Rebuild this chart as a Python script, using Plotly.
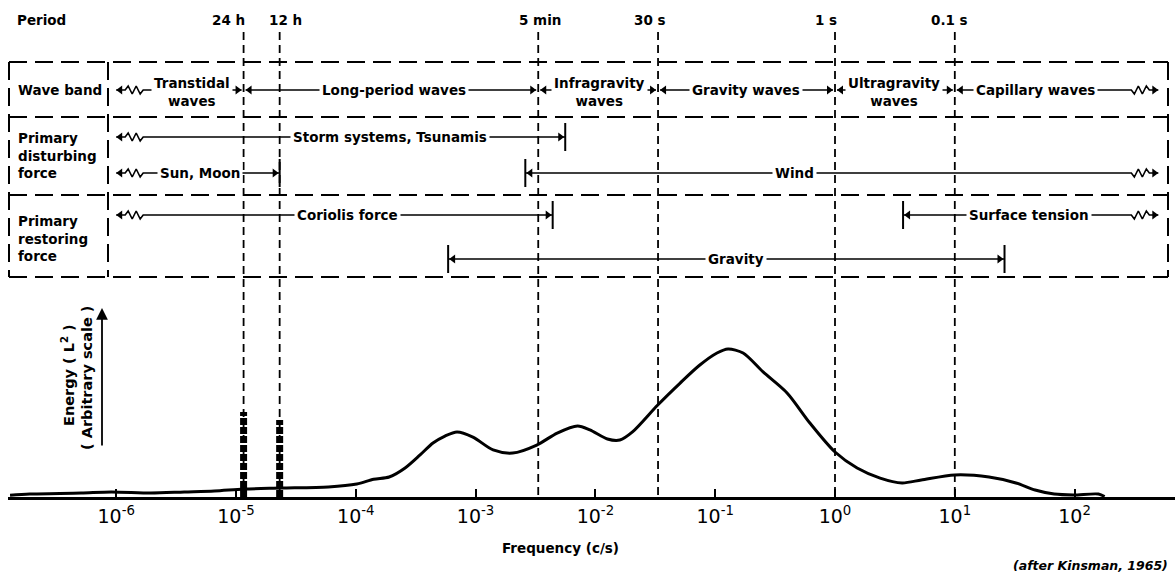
import numpy as np
import plotly.graph_objects as go

# ---------------- data ----------------
freq = [1.3e-7, 1.9e-7, 5.1e-7, 9.1e-7, 1.95e-6, 3.7e-6, 6.6e-6, 1.17e-5, 2.4e-5, 5.9e-5,
        1.02e-4, 1.41e-4, 1.9e-4, 2.58e-4, 3.44e-4, 4.41e-4, 5.55e-4, 7.0e-4, 9.5e-4, 1.4e-3,
        2.04e-3, 3.24e-3, 4.8e-3, 7.1e-3, 9.0e-3, 1.26e-2, 1.6e-2, 2.04e-2, 3.3e-2, 5.1e-2,
        7.4e-2, 0.1035, 0.128, 0.171, 0.251, 0.398, 0.617, 1.0, 1.53, 2.38,
        3.63, 5.25, 10, 19.3, 32.4, 46.8, 67.6, 97.7, 158, 178]
energy = [0.012, 0.02, 0.027, 0.034, 0.027, 0.034, 0.04, 0.054, 0.06, 0.068,
          0.088, 0.12, 0.135, 0.196, 0.284, 0.365, 0.412, 0.44, 0.405, 0.318,
          0.297, 0.351, 0.432, 0.48, 0.453, 0.392, 0.385, 0.44, 0.62, 0.77,
          0.89, 0.973, 1.0, 0.973, 0.845, 0.703, 0.5, 0.304, 0.196, 0.128,
          0.095, 0.115, 0.149, 0.135, 0.095, 0.047, 0.02, 0.014, 0.02, 0.003]

tide_freq = [1 / 86400, 1 / 43200]
tide_energy = [0.574, 0.52]

period_labels = ["24 h", "12 h", "5 min", "30 s", "1 s", "0.1 s"]
period_freq = [1 / 86400, 1 / 43200, 1 / 300, 1 / 30, 1.0, 10.0]
period_label_shift = [-15, 6, 2, -8, -9, -5]

tick_vals = [1e-6, 1e-5, 1e-4, 1e-3, 1e-2, 1e-1, 1, 10, 100]
tick_text = ["10<sup>-6</sup>", "10<sup>-5</sup>", "10<sup>-4</sup>", "10<sup>-3</sup>",
             "10<sup>-2</sup>", "10<sup>-1</sup>", "10<sup>0</sup>", "10<sup>1</sup>",
             "10<sup>2</sup>"]

OPEN_LOW = 1e-6
OPEN_HIGH = 5e2

band_labels = ["Transtidal<br>waves", "Long-period waves", "Infragravity<br>waves",
               "Gravity waves", "Ultragravity<br>waves", "Capillary waves"]
band_lo = [OPEN_LOW, 1 / 86400, 1 / 300, 1 / 30, 1.0, 10.0]
band_hi = [1 / 86400, 1 / 300, 1 / 30, 1.0, 10.0, OPEN_HIGH]
band_label_freq = [4.3e-6, 2.1e-4, 1.09e-2, 0.18, 3.1, 47.6]
band_lo_end = ["wavy", "arrow", "arrow", "arrow", "arrow", "arrow"]
band_hi_end = ["arrow", "arrow", "arrow", "arrow", "arrow", "wavy"]

force_labels = ["Storm systems, Tsunamis", "Sun, Moon", "Wind",
                "Coriolis force", "Gravity", "Surface tension"]
force_lo = [OPEN_LOW, OPEN_LOW, 2.6e-3, OPEN_LOW, 5.9e-4, 3.7]
force_hi = [5.6e-3, 1 / 43200, OPEN_HIGH, 4.4e-3, 26, OPEN_HIGH]
force_label_freq = [1.93e-4, 5.0e-6, 0.46, 8.5e-5, 0.149, 41.6]
force_lo_end = ["wavy", "wavy", "bar", "wavy", "bar", "bar"]
force_hi_end = ["bar", "bar", "wavy", "bar", "bar", "wavy"]
force_row = ["dist1", "dist2", "dist2", "rest1", "rest2", "rest1"]

# ---------------- layout constants ----------------
W, H = 1175, 573
ML, MB = 8, 76
PLOT_W = W - ML
PLOT_H = H - MB
X_RANGE = [-6.903, 2.838]
DEC_PER_PX = (X_RANGE[1] - X_RANGE[0]) / PLOT_W
ROW_Y = {"band": 90, "dist1": 137, "dist2": 173, "rest1": 215, "rest2": 259}
FONT = "DejaVu Sans"
TXT = dict(family=FONT, size=13.5, color="black", weight="bold")

ZZ_OFF = [0, 9, 12, 16, 20, 24, 27]
ZZ_DY = [0, 0, -4, 4, -4, 4, 0]


def px(v):
    return (v - ML) / PLOT_W


fig = go.Figure()

# energy spectrum
fig.add_trace(go.Scatter(x=freq, y=energy, mode="lines",
                         line=dict(color="black", width=3, shape="spline", smoothing=0.8),
                         hoverinfo="skip"))
# tidal spikes
for f, e in zip(tide_freq, tide_energy):
    fig.add_trace(go.Scatter(x=[f, f], y=[0, e], mode="lines",
                             line=dict(color="black", width=7, dash="7px,2px"),
                             hoverinfo="skip"))

# period dashed lines
for f in period_freq:
    fig.add_trace(go.Scatter(x=[f, f], y=[32, PLOT_H], yaxis="y2", mode="lines",
                             line=dict(color="black", width=1.8, dash="8px,5px"),
                             hoverinfo="skip"))

# table arrows
line_x, line_y = [], []
tl_x, tl_y, tr_x, tr_y, bar_x, bar_y = [], [], [], [], [], []
annotations = []


def add_item(lo, hi, y, lo_end, hi_end, label, label_f):
    d = DEC_PER_PX
    a, b = np.log10(lo), np.log10(hi)
    pts = []
    tip_off = {"arrow": 2, "wavy": 0, "bar": 1}
    if lo_end == "wavy":
        pts += [(a + o * d, y + dy) for o, dy in zip(ZZ_OFF, ZZ_DY)]
    else:
        pts.append((a + (2 if lo_end == "arrow" else 0) * d, y))
    if hi_end == "wavy":
        pts += [(b - o * d, y + dy) for o, dy in zip(ZZ_OFF, ZZ_DY)][::-1]
    else:
        pts.append((b - (2 if hi_end == "arrow" else 0) * d, y))
    for lx, ly in pts:
        line_x.append(10 ** lx)
        line_y.append(ly)
    line_x.append(None)
    line_y.append(None)
    tl_x.append(10 ** (a + (tip_off[lo_end] + 4) * d)); tl_y.append(y)
    tr_x.append(10 ** (b - (tip_off[hi_end] + 4) * d)); tr_y.append(y)
    if lo_end == "bar":
        bar_x.append(lo); bar_y.append(y)
    if hi_end == "bar":
        bar_x.append(hi); bar_y.append(y)
    annotations.append(dict(x=np.log10(label_f), y=y + (1.5 if "<br>" in label else 0),
                            xref="x", yref="y2", text=label, showarrow=False,
                            xanchor="center", yanchor="middle",
                            font=TXT, bgcolor="white", borderpad=2))


for i in range(len(band_labels)):
    add_item(band_lo[i], band_hi[i], ROW_Y["band"], band_lo_end[i], band_hi_end[i],
             band_labels[i], band_label_freq[i])
for i in range(len(force_labels)):
    add_item(force_lo[i], force_hi[i], ROW_Y[force_row[i]], force_lo_end[i], force_hi_end[i],
             force_labels[i], force_label_freq[i])

fig.add_trace(go.Scatter(x=line_x, y=line_y, yaxis="y2", mode="lines",
                         line=dict(color="black", width=1.6), hoverinfo="skip"))
fig.add_trace(go.Scatter(x=tl_x, y=tl_y, yaxis="y2", mode="markers",
                         marker=dict(symbol="triangle-left", size=8, color="black"),
                         hoverinfo="skip"))
fig.add_trace(go.Scatter(x=tr_x, y=tr_y, yaxis="y2", mode="markers",
                         marker=dict(symbol="triangle-right", size=8, color="black"),
                         hoverinfo="skip"))
fig.add_trace(go.Scatter(x=bar_x, y=bar_y, yaxis="y2", mode="markers",
                         marker=dict(symbol="line-ns", size=20,
                                     line=dict(width=2, color="black")),
                         hoverinfo="skip"))

# table border (dashed)
shapes = []
dash_tbl = "18px,8px"
for yy in [62, 117, 195, 277]:
    shapes.append(dict(type="line", xref="paper", yref="y2", x0=px(9), x1=px(1168),
                       y0=yy, y1=yy, line=dict(color="black", width=2, dash=dash_tbl)))
for xx in [9, 108, 1168]:
    shapes.append(dict(type="line", xref="paper", yref="y2", x0=px(xx), x1=px(xx),
                       y0=62, y1=277, line=dict(color="black", width=2, dash=dash_tbl)))

# period labels
annotations.append(dict(x=px(15), y=20, xref="paper", yref="y2", text="Period",
                        xanchor="left", yanchor="middle", showarrow=False, font=TXT))
for lab, f, sh in zip(period_labels, period_freq, period_label_shift):
    annotations.append(dict(x=np.log10(f), y=20, xref="x", yref="y2", text=lab,
                            xshift=sh, xanchor="center", yanchor="middle",
                            showarrow=False, font=TXT))

# left column labels
annotations.append(dict(x=px(16), y=90, xref="paper", yref="y2", text="Wave band",
                        xanchor="left", yanchor="middle", align="left",
                        showarrow=False, font=TXT))
annotations.append(dict(x=px(16), y=155, xref="paper", yref="y2",
                        text="Primary<br>disturbing<br>force",
                        xanchor="left", yanchor="middle", align="left",
                        showarrow=False, font=TXT))
annotations.append(dict(x=px(16), y=238, xref="paper", yref="y2",
                        text="Primary<br>restoring<br>force",
                        xanchor="left", yanchor="middle", align="left",
                        showarrow=False, font=TXT))

# energy axis label + arrow
ENERGY_TXT = dict(family=FONT, size=14.5, color="black", weight="bold")
annotations.append(dict(x=px(68), y=375, xref="paper", yref="y2",
                        text="Energy ( L<sup>2</sup> )", textangle=-90,
                        xanchor="center", yanchor="middle",
                        showarrow=False, font=ENERGY_TXT))
annotations.append(dict(x=px(87), y=378, xref="paper", yref="y2",
                        text="( Arbitrary scale )", textangle=-90,
                        xanchor="center", yanchor="middle",
                        showarrow=False, font=ENERGY_TXT))
annotations.append(dict(x=px(102), y=308, xref="paper", yref="y2", text="",
                        showarrow=True, ax=0, ay=139, arrowhead=2, arrowsize=1.3,
                        arrowwidth=1.8, arrowcolor="black"))

# bottom texts
annotations.append(dict(x=px(560), y=-(548 - PLOT_H) / PLOT_H, xref="paper", yref="paper",
                        text="Frequency (c/s)", xanchor="center", yanchor="middle",
                        showarrow=False, font=TXT))
annotations.append(dict(x=px(1170), y=-(565 - PLOT_H) / PLOT_H, xref="paper", yref="paper",
                        text="<i>(after Kinsman, 1965)</i>", xanchor="right",
                        yanchor="middle",
                        showarrow=False, font=dict(family=FONT, size=12.5, color="black",
                                                   weight="bold")))

fig.update_layout(
    width=W, height=H,
    margin=dict(l=ML, r=0, t=0, b=MB),
    paper_bgcolor="white", plot_bgcolor="white",
    showlegend=False,
    xaxis=dict(type="log", range=X_RANGE, showgrid=False, zeroline=False,
               showline=True, linecolor="black", linewidth=2.5,
               ticks="inside", ticklen=8, tickwidth=1.5, tickcolor="black",
               tickmode="array", tickvals=tick_vals, ticktext=tick_text,
               tickfont=dict(family=FONT, size=19, color="black")),
    yaxis=dict(range=[0, PLOT_H / 148], visible=False, fixedrange=True),
    yaxis2=dict(range=[PLOT_H, 0], overlaying="y", visible=False),
    shapes=shapes,
    annotations=annotations,
)

fig.write_html("out.html")
